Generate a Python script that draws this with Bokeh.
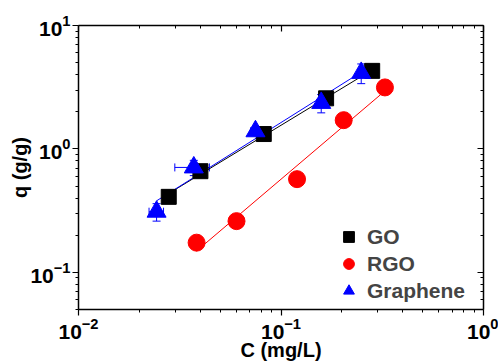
import numpy as np
from bokeh.plotting import figure
from bokeh.models import LogAxis, Legend, LegendItem, Whisker, ColumnDataSource, FixedTicker, LogTickFormatter
from bokeh.embed import file_html
from bokeh.resources import INLINE

# data
go_c = [0.0279, 0.040, 0.0822, 0.167, 0.282]
go_q = [0.409, 0.66, 1.32, 2.57, 4.29]
rgo_c = [0.0383, 0.0603, 0.120, 0.204, 0.326]
rgo_q = [0.174, 0.260, 0.569, 1.71, 3.15]
gr_c = [0.0243, 0.0371, 0.0748, 0.158, 0.249]
gr_q = [0.310, 0.708, 1.39, 2.36, 4.13]
gr_cerr = [0.002, 0.0072, 0.004, 0.008, 0.01]
gr_qerr = [0.05, 0.10, 0.10, 0.40, 0.75]
x_major = [0.01, 0.1, 1.0]
y_major = [0.1, 1.0, 10.0]

FONT = "Liberation Sans"

def minors(majors):
    out = []
    for m in majors:
        out += [m * k for k in range(2, 10)]
    return out

p = figure(width=498, height=363, x_axis_type="log", y_axis_type="log",
           x_range=(0.01, 1.0), y_range=(0.05, 10.0),
           output_backend="svg", toolbar_location=None,
           min_border_left=78, min_border_right=15, min_border_top=25, min_border_bottom=53)
p.outline_line_color = None
p.xgrid.visible = False
p.ygrid.visible = False

def style(ax, inside=False, labels=True):
    ax.axis_line_color = "black"
    ax.axis_line_width = 1.5
    ax.major_tick_line_color = "black"
    ax.minor_tick_line_color = "black"
    ax.major_tick_line_width = 1.2
    ax.minor_tick_line_width = 1
    if inside:
        ax.major_tick_in, ax.major_tick_out = 6, 0
        ax.minor_tick_in, ax.minor_tick_out = 3, 0
    else:
        ax.major_tick_in, ax.major_tick_out = 0, 6
        ax.minor_tick_in, ax.minor_tick_out = 0, 3
    if labels:
        ax.major_label_text_font = FONT
        ax.major_label_text_font_style = "bold"
        ax.major_label_text_font_size = "21px"
        ax.major_label_text_color = "black"
        ax.axis_label_text_font = FONT
        ax.axis_label_text_font_style = "bold"
        ax.axis_label_text_font_size = "20px"
        ax.axis_label_text_color = "black"
    else:
        ax.major_label_text_font_size = "1px"
        ax.major_label_text_alpha = 0
        ax.major_label_standoff = 0

p.xaxis.ticker = FixedTicker(ticks=x_major, minor_ticks=minors([0.01, 0.1]))
p.yaxis.ticker = FixedTicker(ticks=y_major, minor_ticks=minors([0.01, 0.1, 1.0]))
p.xaxis.formatter = LogTickFormatter()
p.yaxis.formatter = LogTickFormatter()
style(p.xaxis[0])
style(p.yaxis[0])
p.xaxis.axis_label = "C (mg/L)"
p.yaxis.axis_label = "q (g/g)"
p.xaxis.axis_label_standoff = -3
p.yaxis.axis_label_standoff = -4
p.xaxis.major_label_standoff = 2
p.yaxis.major_label_standoff = 2

top = LogAxis(ticker=FixedTicker(ticks=x_major, minor_ticks=minors([0.01, 0.1])))
style(top, inside=True, labels=False)
right = LogAxis(ticker=FixedTicker(ticks=y_major, minor_ticks=minors([0.01, 0.1, 1.0])))
style(right, inside=True, labels=False)
p.add_layout(top, "above")
p.add_layout(right, "right")

def fit_line(c, q, color):
    lc, lq = np.log10(c), np.log10(q)
    k, b = np.polyfit(lc, lq, 1)
    xs = np.array([min(c), max(c)])
    ys = 10 ** (k * np.log10(xs) + b)
    p.line(xs, ys, line_color=color, line_width=1)

fit_line(go_c, go_q, "black")
fit_line(rgo_c, rgo_q, "red")
fit_line(gr_c, gr_q, "blue")

# error bars for graphene
gsrc = ColumnDataSource(dict(
    c=gr_c, q=gr_q,
    cl=[c - e for c, e in zip(gr_c, gr_cerr)], cu=[c + e for c, e in zip(gr_c, gr_cerr)],
    ql=[q - e for q, e in zip(gr_q, gr_qerr)], qu=[q + e for q, e in zip(gr_q, gr_qerr)]))
for dim, base, lo, hi in (("height", "c", "ql", "qu"), ("width", "q", "cl", "cu")):
    w = Whisker(source=gsrc, base=base, lower=lo, upper=hi, dimension=dim,
                line_color="blue", line_width=1)
    w.upper_head.line_color = "blue"; w.lower_head.line_color = "blue"
    w.upper_head.size = 8; w.lower_head.size = 8
    p.add_layout(w)

r_go = p.scatter(go_c, go_q, marker="square", size=15, fill_color="black", line_color="black")
r_rgo = p.scatter(rgo_c, rgo_q, marker="circle", size=17, fill_color="red", line_color="red")
r_gr = p.scatter(gr_c, gr_q, marker="triangle", size=19, fill_color="blue", line_color="blue")

legend = Legend(items=[LegendItem(label="GO", renderers=[r_go]),
                       LegendItem(label="RGO", renderers=[r_rgo]),
                       LegendItem(label="Graphene", renderers=[r_gr])],
                location=(257, 5), glyph_width=27, glyph_height=27, spacing=0,
                padding=0, margin=0, border_line_color=None, background_fill_alpha=0,
                label_text_font=FONT, label_text_font_style="bold",
                label_text_font_size="21px", label_standoff=5)
p.add_layout(legend, "center")

open("out.html", "w").write(file_html(p, INLINE))
